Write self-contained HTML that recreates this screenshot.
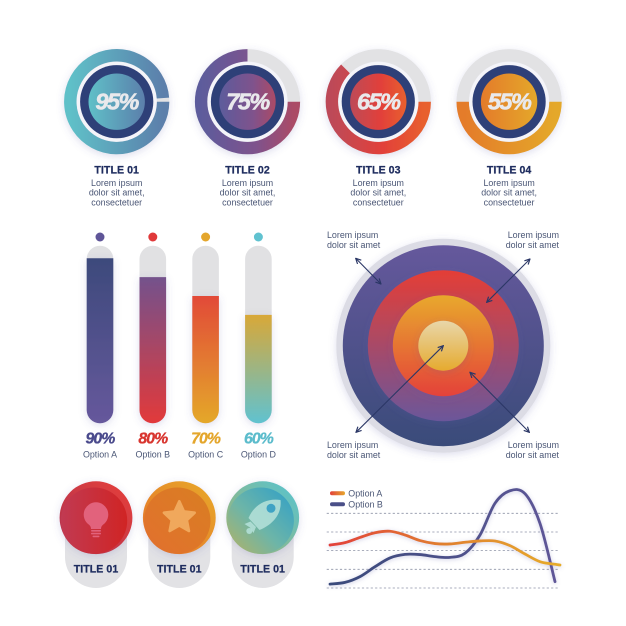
<!DOCTYPE html>
<html lang="en">
<head>
<meta charset="utf-8">
<title>Infographic chart set</title>
<style>
html,body{margin:0;padding:0;background:#fff;width:626px;height:626px;overflow:hidden}
svg{display:block}
text{font-family:"Liberation Sans",sans-serif}
.title{font-size:10.6px;font-weight:700;fill:#1f2d5f;stroke:#1f2d5f;stroke-width:.25px;letter-spacing:.05px;text-anchor:middle}
.body{font-size:8.9px;fill:#4a5675;letter-spacing:0}
.mid{text-anchor:middle}
.end{text-anchor:end}
.pct{font-style:italic;font-weight:700;text-anchor:middle}
</style>
</head>
<body>
<svg id="art" xmlns="http://www.w3.org/2000/svg" width="626" height="626" viewBox="0 0 626 626">
<defs>
<filter id="sh" x="-30%" y="-30%" width="160%" height="160%"><feDropShadow dx="0" dy="2" stdDeviation="4" flood-color="#5a5aa8" flood-opacity=".2"/></filter>
<filter id="shLine" x="-10%" y="-30%" width="120%" height="160%"><feGaussianBlur in="SourceGraphic" stdDeviation=".25" result="b"/><feDropShadow in="b" dx="0" dy="1" stdDeviation="2" flood-color="#5a5aa8" flood-opacity=".3"/></filter>
<linearGradient id="d0"><stop offset="0" stop-color="#5fc0c8"/><stop offset="1" stop-color="#5b7fab"/></linearGradient>
<linearGradient id="d1"><stop offset="0" stop-color="#5d5c9c"/><stop offset=".6" stop-color="#7f528c"/><stop offset="1" stop-color="#ab4b66"/></linearGradient>
<linearGradient id="d2"><stop offset="0" stop-color="#bd4a58"/><stop offset=".55" stop-color="#e2403a"/><stop offset="1" stop-color="#e8602e"/></linearGradient>
<linearGradient id="d3"><stop offset="0" stop-color="#e47b2c"/><stop offset="1" stop-color="#e4a82a"/></linearGradient>
<linearGradient id="b0" x2="0" y2="1"><stop offset="0" stop-color="#3d4a7c"/><stop offset="1" stop-color="#66589c"/></linearGradient>
<linearGradient id="b1" x2="0" y2="1"><stop offset="0" stop-color="#74528c"/><stop offset="1" stop-color="#e2393a"/></linearGradient>
<linearGradient id="b2" x2="0" y2="1"><stop offset="0" stop-color="#e24a38"/><stop offset="1" stop-color="#e4a82a"/></linearGradient>
<linearGradient id="b3" x2="0" y2="1"><stop offset="0" stop-color="#d8a838"/><stop offset="1" stop-color="#60c2d0"/></linearGradient>
<linearGradient id="t0" x2="0" y2="1"><stop offset="0" stop-color="#65589c"/><stop offset="1" stop-color="#3a4b7a"/></linearGradient>
<linearGradient id="t1" x2="0" y2="1"><stop offset="0" stop-color="#e43e36"/><stop offset="1" stop-color="#6b569a"/></linearGradient>
<linearGradient id="t2" x2="0" y2="1"><stop offset="0" stop-color="#e8a82c"/><stop offset="1" stop-color="#e4423a"/></linearGradient>
<linearGradient id="t3" x2="0" y2="1"><stop offset="0" stop-color="#e8d6aa"/><stop offset="1" stop-color="#e6aa2e"/></linearGradient>
<linearGradient id="c0o" x1="1" y1="0" x2="0" y2="1"><stop offset="0" stop-color="#e8403a"/><stop offset="1" stop-color="#ad3250"/></linearGradient>
<linearGradient id="c0i"><stop offset="0" stop-color="#c13a52"/><stop offset="1" stop-color="#d02424"/></linearGradient>
<linearGradient id="c1o" x1="1" y1="0" x2="0" y2="1"><stop offset="0" stop-color="#e8aa2a"/><stop offset="1" stop-color="#e4702c"/></linearGradient>
<linearGradient id="c1i" x1="1" y1="0" x2="0" y2="1"><stop offset="0" stop-color="#d97e22"/><stop offset="1" stop-color="#e2702e"/></linearGradient>
<linearGradient id="c2o" x1="1" y1="0" x2="0" y2="1"><stop offset="0" stop-color="#55c4d2"/><stop offset="1" stop-color="#a6b26e"/></linearGradient>
<linearGradient id="c2i" x1="1" y1="0" x2="0" y2="1"><stop offset="0" stop-color="#2e9fc9"/><stop offset=".55" stop-color="#6db5a8"/><stop offset="1" stop-color="#b5b263"/></linearGradient>
<linearGradient id="lineA" gradientUnits="userSpaceOnUse" x1="330" y1="0" x2="560" y2="0"><stop offset="0" stop-color="#e2413a"/><stop offset=".5" stop-color="#e0802e"/><stop offset="1" stop-color="#e6ac2c"/></linearGradient>
<linearGradient id="lineB" gradientUnits="userSpaceOnUse" x1="330" y1="0" x2="560" y2="0"><stop offset="0" stop-color="#394a7a"/><stop offset="1" stop-color="#5f5698"/></linearGradient>
<linearGradient id="swA"><stop offset="0" stop-color="#e2413a"/><stop offset="1" stop-color="#e6a62c"/></linearGradient>
<marker id="ah" viewBox="0 0 10 10" refX="9" refY="5" markerWidth="6" markerHeight="6" orient="auto-start-reverse"><path d="M1 1 L9 5 L1 9" fill="none" stroke="#2b3766" stroke-width="1.8"/></marker>
</defs>

<g id="donuts"></g>
<g id="bars"></g>

<g>
  <circle cx="443.3" cy="345.7" r="107" fill="#dcdce5" filter="url(#sh)"/>
  <circle cx="443.3" cy="345.7" r="100.5" fill="url(#t0)"/>
  <circle cx="443.3" cy="345.7" r="75.5" fill="url(#t1)" filter="url(#sh)"/>
  <circle cx="443.3" cy="345.7" r="50.5" fill="url(#t2)" filter="url(#sh)"/>
  <circle cx="443.3" cy="345.7" r="25" fill="url(#t3)" filter="url(#sh)"/>
  <g fill="none" stroke="#2b3766" stroke-width="1.1">
    <line x1="355.7" y1="258.3" x2="381" y2="284" marker-start="url(#ah)" marker-end="url(#ah)"/>
    <line x1="530" y1="259" x2="486.7" y2="302.3" marker-start="url(#ah)" marker-end="url(#ah)"/>
    <line x1="356" y1="432.3" x2="443.3" y2="345.7" marker-start="url(#ah)" marker-end="url(#ah)"/>
    <line x1="529.3" y1="432.3" x2="470" y2="372.3" marker-start="url(#ah)" marker-end="url(#ah)"/>
  </g>
  <text class="body"><tspan x="327" y="238">Lorem ipsum</tspan><tspan x="327" y="248">dolor sit amet</tspan></text>
  <text class="body end"><tspan x="559" y="238">Lorem ipsum</tspan><tspan x="559" y="248">dolor sit amet</tspan></text>
  <text class="body"><tspan x="327" y="448">Lorem ipsum</tspan><tspan x="327" y="458">dolor sit amet</tspan></text>
  <text class="body end"><tspan x="559" y="448">Lorem ipsum</tspan><tspan x="559" y="458">dolor sit amet</tspan></text>
</g>

<g>
  <g>
    <rect x="65" y="500" width="62" height="88" rx="31" fill="#e2e2e5"/>
    <circle cx="96" cy="517.7" r="36.4" fill="url(#c0o)" filter="url(#sh)"/>
    <circle cx="94" cy="520.7" r="33.2" fill="url(#c0i)"/>
    <g fill="#e2627c">
      <path d="M96 502.3a12.3 12.3 0 0 1 7 22.4c-1.6 1.2-2 2.6-2 4.3h-10c0-1.7-.4-3.1-2-4.3a12.3 12.3 0 0 1 7-22.4z"/>
      <rect x="91" y="530" width="10" height="1.6" rx=".8"/>
      <rect x="91" y="532.8" width="10" height="1.6" rx=".8"/>
      <rect x="92.5" y="535.6" width="7" height="1.6" rx=".8"/>
    </g>
    <text class="title" x="96" y="572.7">TITLE 01</text>
  </g>
  <g>
    <rect x="148.3" y="500" width="62" height="88" rx="31" fill="#e2e2e5"/>
    <circle cx="179.3" cy="517.7" r="36.4" fill="url(#c1o)" filter="url(#sh)"/>
    <circle cx="177.3" cy="520.7" r="33.2" fill="url(#c1i)"/>
    <path transform="translate(179.3 517) scale(1.12) translate(-179.3 -517)" d="M179.3 503 L183.4 512 L193 513.2 L186 519.8 L187.9 529.5 L179.3 524.6 L170.7 529.5 L172.6 519.8 L165.6 513.2 L175.2 512 Z" fill="#f0a85c" stroke="#f0a85c" stroke-width="2.4" stroke-linejoin="round"/>
    <text class="title" x="179.3" y="572.7">TITLE 01</text>
  </g>
  <g>
    <rect x="231.7" y="500" width="62" height="88" rx="31" fill="#e2e2e5"/>
    <circle cx="262.7" cy="517.7" r="36.4" fill="url(#c2o)" filter="url(#sh)"/>
    <circle cx="260.7" cy="520.7" r="33.2" fill="url(#c2i)"/>
    <g fill="#b4e0d8" fill-opacity=".88">
      <path d="M280.5 500 C266 498 254 505 248.5 518 L259.5 530 C274 524 282 513 280.5 500 Z"/>
      <circle cx="249.3" cy="531" r="3"/>
      <path d="M244.5 524 l6 -2.500 l5.500 5.500 l-2.500 6 l-3.500 -5.500 z"/>
    </g>
    <circle cx="271" cy="508.3" r="4.5" fill="#3fa3c4"/>
    <text class="title" x="262.7" y="572.7">TITLE 01</text>
  </g>
</g>

<g id="lineChart">
  <rect x="330" y="491.3" width="15" height="4" rx="2" fill="url(#swA)"/>
  <text class="body" x="348.3" y="496.3">Option A</text>
  <rect x="330" y="502.3" width="15" height="4" rx="2" fill="#4a4f88"/>
  <text class="body" x="348.3" y="507.3">Option B</text>
</g>

<script>
// ---- donut data ----
var donutValues = [95, 75, 65, 55];
var donutTitles = ['TITLE 01', 'TITLE 02', 'TITLE 03', 'TITLE 04'];
// ---- bar data ----
var barValues = [90, 80, 70, 60];
var barOptions = ['Option A', 'Option B', 'Option C', 'Option D'];
var barColors = ['#5f5598', '#e0393a', '#e4a62c', '#60c2d0'];
var barTextColors = ['#4a4a8c', '#d8352f', '#e4a62c', '#5cbccc'];
// ---- line data ----
var periods = [0, 3, 6, 9, 12, 15, 18, 21, 24, 27, 30, 33, 36, 39, 42, 45, 46];
var optionA = [2.30, 2.43, 2.71, 2.96, 3.04, 2.84, 2.54, 2.38, 2.36, 2.45, 2.52, 2.52, 2.27, 1.82, 1.41, 1.27, 1.23];
var optionB = [0.21, 0.30, 0.61, 1.14, 1.61, 1.80, 1.79, 1.68, 1.64, 1.86, 2.84, 4.54, 5.21, 5.05, 3.46, 0.34];
var gridLevels = [0, 1, 2, 3, 4];

var NS = 'http://www.w3.org/2000/svg';
function make(tag, parent, props) {
  var e = document.createElementNS(NS, tag);
  for (var k in props) e.setAttribute(k, props[k]);
  parent.appendChild(e);
  return e;
}
// axis functions
function donutX(i) { return 116.7 + i * 130.8; }
function donutSweep(v) { return Math.min(355.5, (v - 15) * 4.5); }
function barX(i) { return 100 + i * 52.8; }
function barY(v) { return 258.3 + (90 - v) * 1.887; }
function lineX(t) { return 330 + t * 5; }
function lineY(v) { return 588 - v * 18.67; }

function arcPath(cx, cy, r, sweep) {
  var a = sweep * Math.PI / 180;
  var ex = cx + r * Math.cos(a), ey = cy + r * Math.sin(a);
  return 'M' + (cx + r) + ' ' + cy + ' A' + r + ' ' + r + ' 0 ' + (sweep > 180 ? 1 : 0) + ' 1 ' + ex.toFixed(2) + ' ' + ey.toFixed(2);
}
function smooth(pts) {
  var d = 'M' + pts[0][0].toFixed(2) + ' ' + pts[0][1].toFixed(2);
  for (var i = 0; i < pts.length - 1; i++) {
    var p0 = pts[Math.max(0, i - 1)], p1 = pts[i], p2 = pts[i + 1], p3 = pts[Math.min(pts.length - 1, i + 2)];
    d += ' C' + (p1[0] + (p2[0] - p0[0]) / 6).toFixed(2) + ' ' + (p1[1] + (p2[1] - p0[1]) / 6).toFixed(2) +
         ' ' + (p2[0] - (p3[0] - p1[0]) / 6).toFixed(2) + ' ' + (p2[1] - (p3[1] - p1[1]) / 6).toFixed(2) +
         ' ' + p2[0].toFixed(2) + ' ' + p2[1].toFixed(2);
  }
  return d;
}

// donuts
var donutRoot = document.getElementById('donuts');
donutValues.forEach(function (v, i) {
  var cx = donutX(i), cy = 101.7;
  var g = make('g', donutRoot, {filter: 'url(#sh)'});
  
  
  var track = make('circle', g, {cx: cx, cy: cy, r: 46.4, fill: 'none', stroke: '#e2e2e4', 'stroke-width': 12.4});
  
  
  var arc = make('path', g, {d: arcPath(cx, cy, 46.4, donutSweep(v)), fill: 'none', stroke: 'url(#d' + i + ')', 'stroke-width': 12.4});
  
  
  var ring = make('circle', g, {cx: cx, cy: cy, r: 40, fill: '#f4f4f9'});
  
  
  var navy = make('circle', g, {cx: cx, cy: cy, r: 36.6, fill: '#2f3f78'});
  
  
  var core = make('circle', g, {cx: cx, cy: cy, r: 28.2, fill: 'url(#d' + i + ')'});
  
  
  var pct = make('text', donutRoot, {'class': 'pct', x: cx, y: cy + 8, fill: '#e9e9ec', stroke: '#e9e9ec', 'stroke-width': .6, 'font-size': 23.5, 'letter-spacing': -1.5});
  pct.textContent = v + '%';
  
  
  var title = make('text', donutRoot, {'class': 'title', x: cx, y: 173.5});
  title.textContent = donutTitles[i];
  
  
  ['Lorem ipsum', 'dolor sit amet,', 'consectetuer'].forEach(function (s, k) {
    var t = make('text', donutRoot, {'class': 'body mid', x: cx, y: 186 + k * 9.7});
    t.textContent = s;
    
    
  });
});

// bars
var barRoot = document.getElementById('bars');
barValues.forEach(function (v, i) {
  var cx = barX(i), w = 26.6, r = 13.3, top = barY(v), bottom = 423.3;
  var dot = make('circle', barRoot, {cx: cx, cy: 237, r: 4.5, fill: barColors[i]});
  
  
  var track = make('rect', barRoot, {x: cx - r, y: 245.7, width: w, height: bottom - 245.7, rx: r, fill: '#e1e1e3'});
  
  
  var fill = make('path', barRoot, {
    d: 'M' + (cx - r) + ' ' + top + ' H' + (cx + r) + ' V' + (bottom - r) + ' A' + r + ' ' + r + ' 0 0 1 ' + (cx - r) + ' ' + (bottom - r) + ' Z',
    fill: 'url(#b' + i + ')', filter: 'url(#sh)'
  });
  
  
  var pct = make('text', barRoot, {'class': 'pct', x: cx, y: 443.5, fill: barTextColors[i], stroke: barTextColors[i], 'stroke-width': .35, 'font-size': 15.8, 'letter-spacing': -.9});
  pct.textContent = v + '%';
  
  
  var opt = make('text', barRoot, {'class': 'body mid', x: cx, y: 457.3});
  opt.textContent = barOptions[i];
  
  
});

// line chart
var lineRoot = document.getElementById('lineChart');
gridLevels.forEach(function (g) {
  var ln = make('line', lineRoot, {x1: 326.7, x2: 558.7, y1: lineY(g), y2: lineY(g), stroke: '#8d93a6', 'stroke-width': .8, 'stroke-dasharray': '2.2 2.2'});
  
  
});
function seriesPoints(vals) {
  return vals.map(function (v, i) { return [lineX(periods[i]), lineY(v)]; });
}
var pathB = make('path', lineRoot, {d: smooth(seriesPoints(optionB)), fill: 'none', stroke: 'url(#lineB)', 'stroke-width': 2.8, 'stroke-linecap': 'round', filter: 'url(#shLine)'});


var pathA = make('path', lineRoot, {d: smooth(seriesPoints(optionA)), fill: 'none', stroke: 'url(#lineA)', 'stroke-width': 2.8, 'stroke-linecap': 'round', filter: 'url(#shLine)'});


</script>
</svg>
</body>
</html>
